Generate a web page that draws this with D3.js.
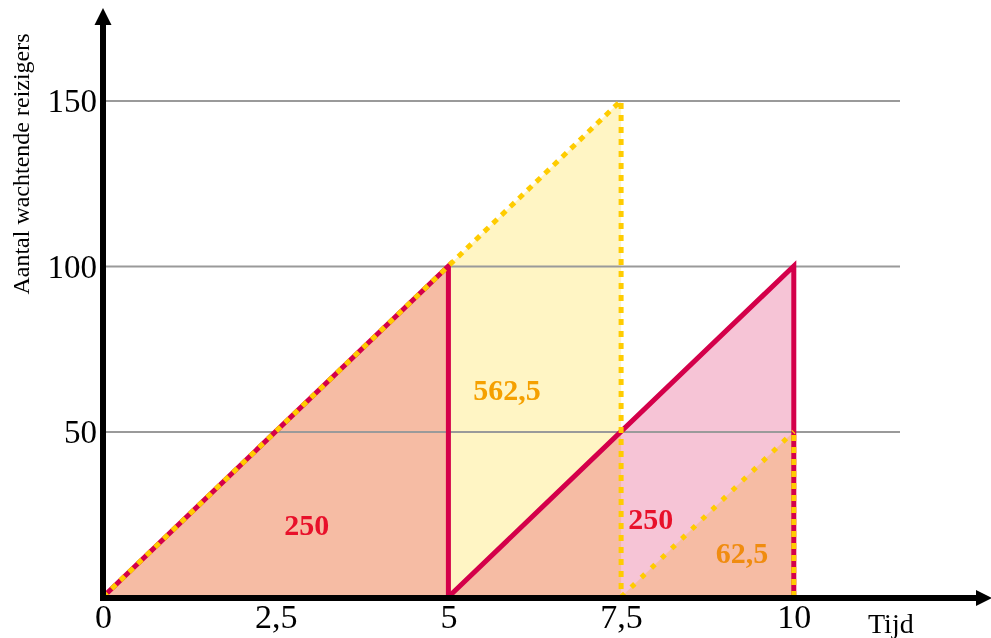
<!DOCTYPE html>
<html>
<head>
<meta charset="utf-8">
<script src="https://cdn.jsdelivr.net/npm/d3@7"></script>
<style>
  body { margin: 0; background: #fff; }
  text { font-family: 'Liberation Serif', 'Times New Roman', serif; }
</style>
</head>
<body>
<div class="container"></div>
<script>
// tijd (x) en aantal wachtende reizigers (y)
const xTicks = [0, 2.5, 5, 7.5, 10];
const yTicks = [50, 100, 150];

const geel1 = [[0, 0], [7.5, 150], [7.5, 0]];
const geel2 = [[7.5, 0], [10, 50], [10, 0]];
const rood1 = [[0, 0], [5, 100], [5, 0]];
const rood2 = [[5, 0], [10, 100], [10, 0]];

const roodLijnen = [
  [[0, 0], [5, 100], [5, 0]],
  [[5, 0], [10, 100], [10, 0]]
];
const geelLijnen = [
  [[0, 0], [7.5, 150], [7.5, 0]],
  [[10, 0], [10, 50]]
];
const geelLijnDun = [[7.5, 0], [10, 50]];

const oppLabels = [
  { t: 2.95, n: 18.7, text: '250', color: '#e8102a' },
  { t: 5.85, n: 59.5, text: '562,5', color: '#f5a000' },
  { t: 7.93, n: 20.5, text: '250', color: '#e8102a' },
  { t: 9.25, n: 10.3, text: '62,5', color: '#f08c10' }
];

const fmt = d => String(d).replace('.', ',');

const render = () => {
  const width = 991;
  const height = 638;
  const left = 103;
  const bottom = 597;

  const svg = d3.select('.container').append('svg').attr('width', width).attr('height', height);

  const x = d3.scaleLinear().domain([0, 10]).range([left, 793.8]);
  const y = d3.scaleLinear().domain([0, 150]).range([bottom, 100.5]);

  const line = d3.line().x(d => x(d[0])).y(d => y(d[1]));

  // vlakken (overlap wordt oranje door multiply)
  const vlakken = svg.append('g').attr('class', 'vlakken').style('isolation', 'isolate');
  [geel1, geel2].forEach(p => vlakken.append('path').attr('d', line(p) + 'Z')
    .attr('fill', '#fff5c4').style('mix-blend-mode', 'multiply'));
  [rood1, rood2].forEach(p => vlakken.append('path').attr('d', line(p) + 'Z')
    .attr('fill', '#f6c4d6').style('mix-blend-mode', 'multiply'));

  // rasterlijnen
  const grid = d3.axisLeft(y).tickValues(yTicks).tickSize(-(900 - left)).tickFormat('');
  const gridG = svg.append('g').attr('transform', `translate(${left},0)`).call(grid);
  gridG.select('.domain').remove();
  gridG.selectAll('line').attr('stroke', '#9a9a9a').attr('stroke-width', 2);

  // lijnen
  const lijnen = svg.append('g').attr('class', 'lijnen').attr('fill', 'none');
  roodLijnen.forEach(p => lijnen.append('path').attr('d', line(p))
    .attr('stroke', '#d4004a').attr('stroke-width', 5));
  geelLijnen.forEach(p => lijnen.append('path').attr('d', line(p))
    .attr('stroke', '#ffcc00').attr('stroke-width', 5).attr('stroke-dasharray', '6,6'));
  lijnen.append('path').attr('d', line(geelLijnDun))
    .attr('stroke', '#ffcc00').attr('stroke-width', 5).attr('stroke-dasharray', '5,9');

  // assen
  const assen = svg.append('g').attr('class', 'assen');
  assen.append('line').attr('x1', left).attr('x2', left).attr('y1', bottom + 4).attr('y2', 20)
    .attr('stroke', '#000').attr('stroke-width', 6);
  assen.append('path').attr('d', `M${left - 8.5},25 L${left},8 L${left + 8.5},25 Z`).attr('fill', '#000');
  assen.append('line').attr('x1', left - 3).attr('x2', 980).attr('y1', bottom + 1).attr('y2', bottom + 1)
    .attr('stroke', '#000').attr('stroke-width', 6);
  assen.append('path').attr('d', `M976,${bottom - 7} L992,${bottom + 1} L976,${bottom + 9} Z`).attr('fill', '#000');

  const xAxis = d3.axisBottom(x).tickValues(xTicks).tickSize(0).tickPadding(0).tickFormat(fmt);
  const xG = svg.append('g').attr('transform', `translate(0,${bottom})`).call(xAxis);
  xG.select('.domain').remove();
  xG.attr('font-size', null).attr('font-family', null);
  xG.selectAll('text').style('font-size', '34px').attr('fill', '#000').attr('dy', null).attr('y', 31);

  const yAxis = d3.axisLeft(y).tickValues(yTicks).tickSize(0).tickPadding(6);
  const yG = svg.append('g').attr('transform', `translate(${left},0)`).call(yAxis);
  yG.select('.domain').remove();
  yG.attr('font-size', null).attr('font-family', null);
  yG.selectAll('text').style('font-size', '33px').attr('fill', '#000').attr('dy', '0.34em');

  // labels in de vlakken
  svg.append('g').selectAll('text').data(oppLabels).enter().append('text')
    .attr('x', d => x(d.t)).attr('y', d => y(d.n))
    .attr('text-anchor', 'middle').style('font-size', '30px').attr('font-weight', 'bold')
    .attr('fill', d => d.color).text(d => d.text);

  // astitels
  svg.append('text').text('Tijd').attr('x', 868).attr('y', 633).style('font-size', '28px');
  svg.append('text').text('Aantal wachtende reizigers')
    .attr('transform', 'translate(29,164) rotate(-90)')
    .attr('text-anchor', 'middle').style('font-size', '24px');
};

render();
</script>
</body>
</html>
